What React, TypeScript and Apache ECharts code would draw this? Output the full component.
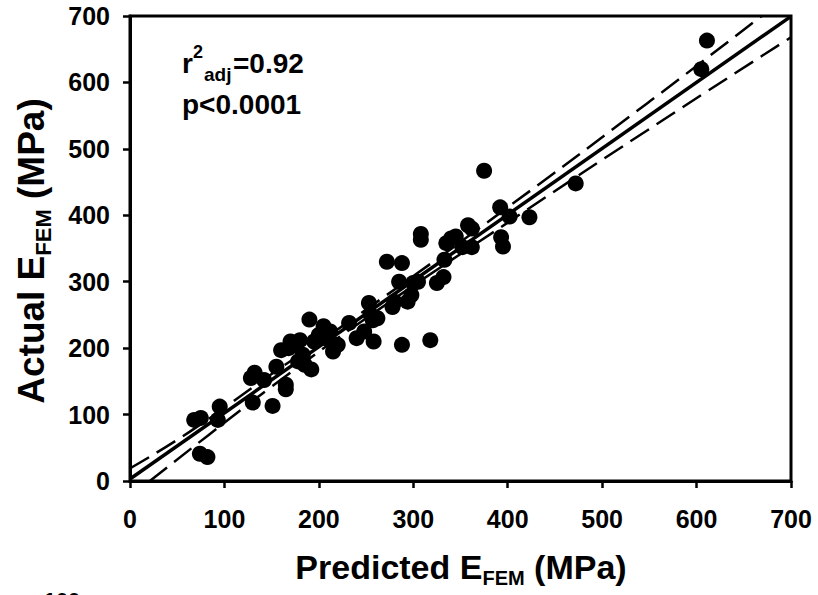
import React, { useEffect, useRef } from "react";
import * as echarts from "echarts";

// Predicted E_FEM (MPa)
const predicted = [
  68, 75, 74, 82, 95, 93, 128, 132, 130, 151, 142, 155, 165, 165, 160, 168, 175, 170, 178, 180,
  185, 183, 190, 192, 195, 200, 205, 207, 212, 215, 220, 232, 240, 248, 253, 255, 257, 258, 262,
  272, 278, 280, 285, 288, 288, 294, 298, 300, 305, 308, 308, 318, 325, 332, 333, 335, 340, 345,
  352, 358, 362, 362, 375, 392, 393, 395, 402, 423, 472, 605, 611,
];
// Actual E_FEM (MPa)
const actual = [
  92, 95, 41, 36, 112, 92, 155, 163, 118, 113, 152, 172, 145, 138, 197, 200, 205, 210, 180, 212,
  175, 190, 243, 168, 210, 220, 233, 215, 225, 195, 205, 238, 215, 225, 268, 250, 242, 210, 245,
  330, 262, 270, 300, 328, 205, 270, 280, 298, 300, 372, 363, 212, 298, 307, 333, 358, 365, 368,
  352, 385, 380, 352, 467, 412, 367, 353, 398, 397, 448, 620, 663,
];

// Regression line and 95% confidence band
const fitX = [0, 700];
const fitY = [3, 699.5];
const upperX = [0, 63, 150, 250, 400, 550, 669];
const upperY = [19, 74, 161, 258, 412, 571, 700];
const lowerX = [21, 83, 150, 250, 400, 550, 700];
const lowerY = [0, 69, 142, 245, 389, 530, 668];

const xTicks = { min: 0, max: 700, interval: 100 };
const yTicks = { min: 0, max: 700, interval: 100 };

const FONT = "'Liberation Sans', Arial, Helvetica, sans-serif";

function measure(text: string, size: number): number {
  const c = document.createElement("canvas").getContext("2d");
  if (!c) return text.length * size * 0.55;
  c.font = `bold ${size}px ${FONT}`;
  return c.measureText(text).width;
}

function titleChildren(parts: { t: string; sub?: boolean }[], main: number, sub: number, subDy: number) {
  const widths = parts.map((p) => measure(p.t, p.sub ? sub : main));
  const total = widths.reduce((a, b) => a + b, 0);
  let x = -total / 2;
  return parts.map((p, i) => {
    const el = {
      type: "text",
      x,
      y: p.sub ? subDy : 0,
      style: {
        text: p.t,
        fontFamily: FONT,
        fontWeight: "bold",
        fontSize: p.sub ? sub : main,
        fill: "#000",
        align: "left",
        verticalAlign: "middle",
      },
    };
    x += widths[i];
    return el;
  });
}

export default function App() {
  const ref = useRef<HTMLDivElement>(null);
  useEffect(() => {
    if (!ref.current) return;
    const chart = echarts.init(ref.current, null, { renderer: "svg" });
    const points = predicted.map((p, i) => [p, actual[i]]);
    const fit = fitX.map((x, i) => [x, fitY[i]]);
    const upper = upperX.map((x, i) => [x, upperY[i]]);
    const lower = lowerX.map((x, i) => [x, lowerY[i]]);
    const titleParts = [{ t: "Predicted E" }, { t: "FEM", sub: true }, { t: " (MPa)" }];
    const yTitleParts = [{ t: "Actual E" }, { t: "FEM", sub: true }, { t: " (MPa)" }];
    const labelStyle = { color: "#000", fontFamily: FONT, fontWeight: "bold" as const, fontSize: 25 };
    const txt = (text: string, x: number, y: number, size: number) => ({
      type: "text",
      x,
      y,
      style: { text, fontFamily: FONT, fontWeight: "bold", fontSize: size, fill: "#000", verticalAlign: "middle" },
    });
    chart.setOption({
      animation: false,
      backgroundColor: "#fff",
      grid: { left: 130, right: 27, top: 16, bottom: 114, show: true, borderColor: "#000", borderWidth: 3 },
      xAxis: {
        type: "value",
        ...xTicks,
        splitLine: { show: false },
        axisLine: { show: true, onZero: false, lineStyle: { color: "#000", width: 3 } },
        axisTick: { show: true, length: 7, lineStyle: { color: "#000", width: 2.5 } },
        axisLabel: { ...labelStyle, margin: 25 },
      },
      yAxis: {
        type: "value",
        ...yTicks,
        splitLine: { show: false },
        axisLine: { show: true, onZero: false, lineStyle: { color: "#000", width: 3 } },
        axisTick: { show: true, length: 7, lineStyle: { color: "#000", width: 2.5 } },
        axisLabel: { ...labelStyle, margin: 20 },
      },
      series: [
        {
          type: "scatter",
          data: points,
          symbol: "circle",
          symbolSize: 16,
          itemStyle: { color: "#000", opacity: 1 },
          z: 2,
        },
        {
          type: "line",
          data: fit,
          showSymbol: false,
          lineStyle: { color: "#000", width: 3.5 },
          z: 3,
        },
        {
          type: "line",
          data: upper,
          smooth: true,
          showSymbol: false,
          lineStyle: { color: "#000", width: 2.5, type: [22, 9] },
          z: 3,
        },
        {
          type: "line",
          data: lower,
          smooth: true,
          showSymbol: false,
          lineStyle: { color: "#000", width: 2.5, type: [22, 9] },
          z: 3,
        },
      ],
      graphic: [
        { type: "group", x: 461, y: 567, children: titleChildren(titleParts, 34, 20, 11) },
        { type: "group", x: 31, y: 251, rotation: Math.PI / 2, children: titleChildren(yTitleParts, 37, 22, 12) },
        txt("r", 182, 63, 28),
        txt("2", 193, 52, 18),
        txt("adj", 204, 74, 19),
        txt("=0.92", 233, 63, 28),
        txt("p<0.0001", 182, 104, 28),
        {
          type: "text", x: 62, y: 589,
          style: { text: "100", fontFamily: FONT, fontWeight: "bold", fontSize: 22, fill: "#000", align: "center", verticalAlign: "top" },
        },
      ],
    });
    return () => chart.dispose();
  }, []);
  return (
    <div
      ref={ref}
      style={{ position: "fixed", left: 0, top: 0, width: 818, height: 595, background: "#fff" }}
    />
  );
}
